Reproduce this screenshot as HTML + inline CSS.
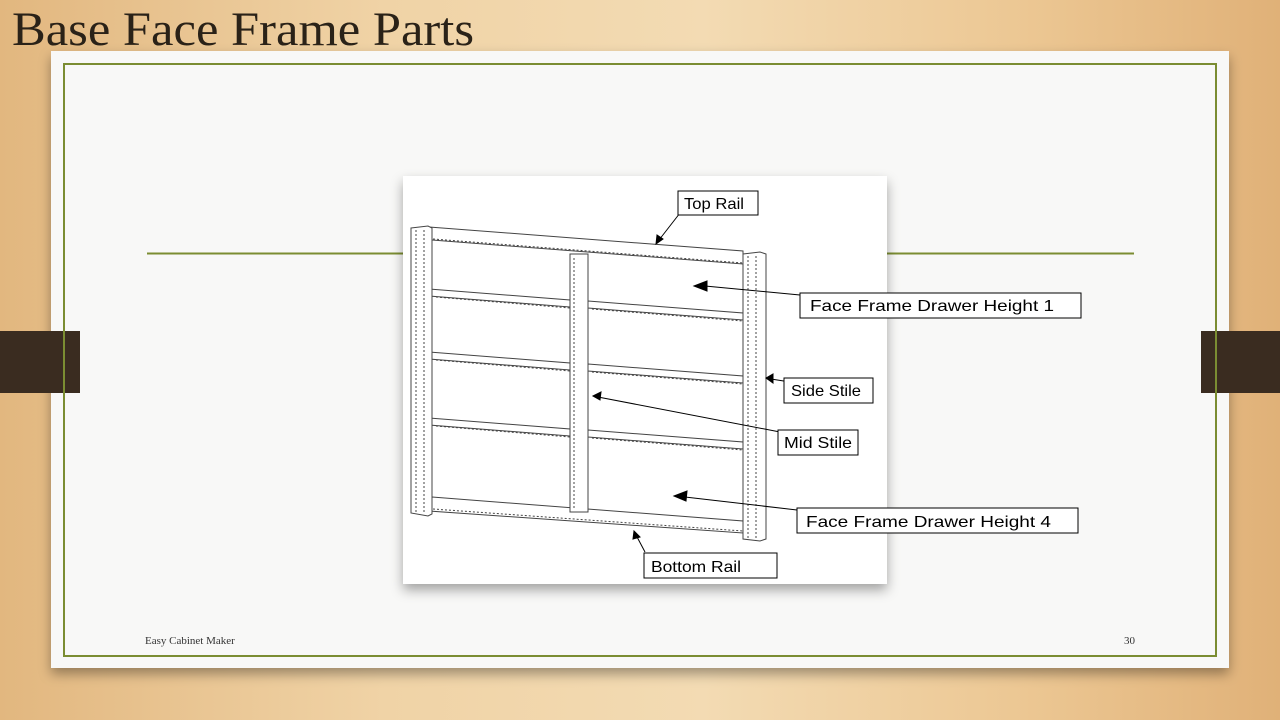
<!DOCTYPE html>
<html><head><meta charset="utf-8"><style>
html,body{margin:0;padding:0;width:1280px;height:720px;overflow:hidden}
body{background:linear-gradient(90deg,#e2b77f 0%,#f0d3a6 30%,#f3dbb3 55%,#ecc793 80%,#e0b178 100%)}
svg{position:absolute;left:0;top:0}
</style></head><body>
<svg width="1280" height="720" viewBox="0 0 1280 720">
<defs><filter id="sh" x="-5%" y="-5%" width="110%" height="115%"><feDropShadow dx="0" dy="6" stdDeviation="6" flood-color="#000" flood-opacity="0.35"/></filter></defs>
<text x="12" y="45" font-family="Liberation Serif, serif" font-size="48" fill="#2a2218" textLength="462" lengthAdjust="spacingAndGlyphs">Base Face Frame Parts</text>
<rect x="51" y="51" width="1178" height="617" fill="#f8f8f7" filter="url(#sh)"/>
<rect x="0" y="331" width="80" height="62" fill="#3a2c20"/>
<rect x="1201" y="331" width="79" height="62" fill="#3a2c20"/>
<rect x="64" y="64" width="1152" height="592" fill="none" stroke="#7b8d32" stroke-width="2"/>
<line x1="147" y1="253.5" x2="1134" y2="253.5" stroke="#7b8d32" stroke-width="2"/>
<text x="145" y="644" font-family="Liberation Serif, serif" font-size="11" fill="#333">Easy Cabinet Maker</text>
<text x="1135" y="644" font-family="Liberation Serif, serif" font-size="11" fill="#333" text-anchor="end">30</text>
<rect x="403" y="176" width="484" height="408" fill="#fff" filter="url(#sh)"/>
<g fill="#fff" stroke="#444" stroke-width="1">
 <polygon points="429,227 743,251 743,264 432,240 429,240"/>
 <line x1="433" y1="239" x2="743" y2="263" stroke-dasharray="2,2"/>
 <polygon points="432,497 743,521 743,533 429,511"/>
 <line x1="433" y1="509" x2="743" y2="531" stroke-dasharray="2,2"/>
 <polygon points="429,289 570,300 570,307 429,296"/>
 <polygon points="429,352 570,363 570,370 429,359"/>
 <polygon points="429,418 570,429 570,436 429,425"/>
 <polygon points="588,301 743,313 743,320 588,308"/>
 <polygon points="588,364 743,376 743,383 588,371"/>
 <polygon points="588,430 743,442 743,449 588,437"/>
 <line x1="436" y1="297" x2="570" y2="308" stroke-dasharray="2,2"/>
 <line x1="436" y1="360" x2="570" y2="371" stroke-dasharray="2,2"/>
 <line x1="436" y1="426" x2="570" y2="437" stroke-dasharray="2,2"/>
 <line x1="592" y1="309" x2="743" y2="321" stroke-dasharray="2,2"/>
 <line x1="592" y1="372" x2="743" y2="384" stroke-dasharray="2,2"/>
 <line x1="592" y1="438" x2="743" y2="450" stroke-dasharray="2,2"/>
 <rect x="570" y="254" width="18" height="258"/>
 <line x1="574" y1="258" x2="574" y2="510" stroke-dasharray="2,2"/>
 <polygon points="411,228 428,226 432,228 432,514 428,516 411,513"/>
 <line x1="416" y1="230" x2="416" y2="512" stroke-dasharray="2,2"/>
 <line x1="424" y1="230" x2="424" y2="512" stroke-dasharray="2,2"/>
 <polygon points="743,254 760,252 766,254 766,539 760,541 743,539"/>
 <line x1="748" y1="256" x2="748" y2="538" stroke-dasharray="2,2"/>
 <line x1="756" y1="256" x2="756" y2="538" stroke-dasharray="2,2"/>
</g>
<g stroke="#000" stroke-width="1" fill="#000">
 <line x1="680" y1="213" x2="659" y2="240"/><polygon points="656,244 657,235 663,239"/>
 <line x1="800" y1="295" x2="705" y2="286"/><polygon points="694,286 707,281 707,291"/>
 <line x1="790" y1="382" x2="771" y2="379"/><polygon points="766,378 773,374 773,383"/>
 <line x1="780" y1="432" x2="598" y2="397"/><polygon points="593,396 601,392 600,400"/>
 <line x1="797" y1="510" x2="685" y2="497"/><polygon points="674,496 687,491 686,501"/>
 <line x1="645" y1="552" x2="636" y2="535"/><polygon points="634,531 640,537 633,539"/>
</g>
<g font-family="Liberation Sans, sans-serif" font-size="16" fill="#000">
 <rect x="678" y="191" width="80" height="24" fill="#fff" stroke="#000"/>
 <text x="684" y="209" textLength="60" lengthAdjust="spacingAndGlyphs">Top Rail</text>
 <rect x="800" y="293" width="281" height="25" fill="#fff" stroke="#000"/>
 <text x="810" y="311" textLength="244" lengthAdjust="spacingAndGlyphs">Face Frame Drawer Height 1</text>
 <rect x="784" y="378" width="89" height="25" fill="#fff" stroke="#000"/>
 <text x="791" y="396" textLength="70" lengthAdjust="spacingAndGlyphs">Side Stile</text>
 <rect x="778" y="430" width="80" height="25" fill="#fff" stroke="#000"/>
 <text x="784" y="448" textLength="68" lengthAdjust="spacingAndGlyphs">Mid Stile</text>
 <rect x="797" y="508" width="281" height="25" fill="#fff" stroke="#000"/>
 <text x="806" y="527" textLength="245" lengthAdjust="spacingAndGlyphs">Face Frame Drawer Height 4</text>
 <rect x="644" y="553" width="133" height="25" fill="#fff" stroke="#000"/>
 <text x="651" y="572" textLength="90" lengthAdjust="spacingAndGlyphs">Bottom Rail</text>
</g>
</svg>
</body></html>
